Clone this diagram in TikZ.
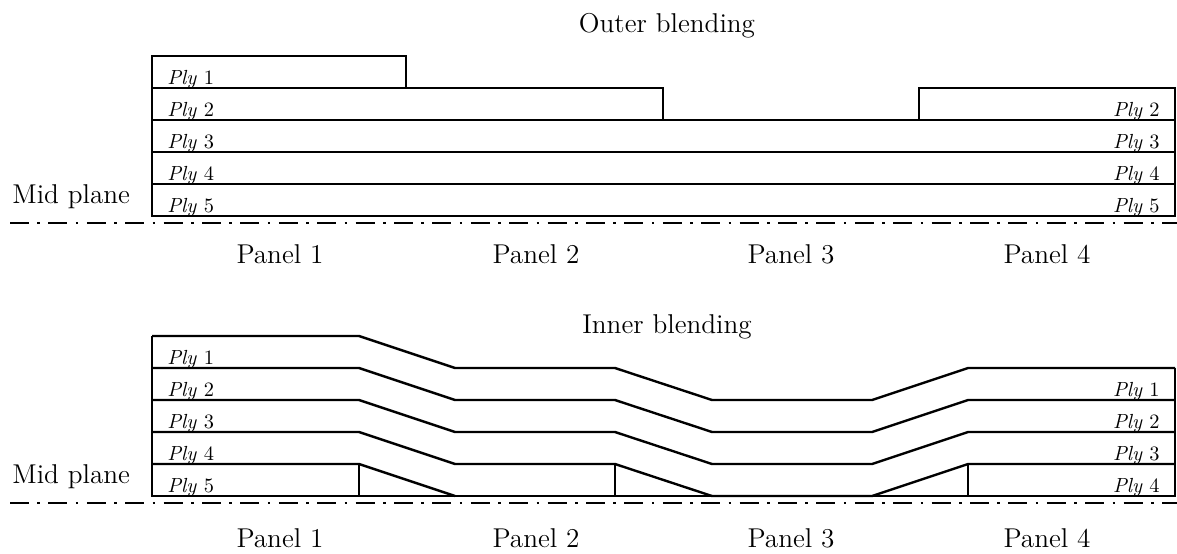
\documentclass[tikz,border=0pt]{standalone}
\usepackage{amsmath}
\usepackage{tikz}

\begin{document}
\begin{tikzpicture}[x=0.5pt,y=-0.5pt,
    plyline/.style={line width=1.2pt, line join=miter},
    midplane/.style={line width=1.2pt, dash pattern=on 9.5pt off 4.2pt on 1.3pt off 4.2pt},
    plytext/.style={font=\fontsize{10.2}{12}\selectfont, inner sep=0pt},
    bigtext/.style={font=\fontsize{13.6}{16}\selectfont, inner sep=0pt, anchor=base}]
    \useasboundingbox (0,0) rectangle (1177,553);

    % outer blending
    \node[bigtext] (outer) at (667,32) {Outer blending};
    \draw[plyline] (152,216) |- (406,56) |- (663,88) |- (919,120) |- (1175,88) -- (1175,216) -- cycle;
    \draw[plyline] (152,88) -- (406,88);
    \foreach \y in {120,152,184}
        \draw[plyline] (152,\y) -- (1175,\y);
    \foreach \i in {1,...,5}
        \node[plytext, anchor=base west] (lo-\i) at (167,{52+32*\i}) {\textit{Ply} \i};
    \foreach \i in {2,...,5}
        \node[plytext, anchor=base east] (ro-\i) at (1160,{52+32*\i}) {\textit{Ply} \i};
    \node[bigtext, anchor=base west] (mid-o) at (12,203) {Mid plane};
    \draw[midplane] (10,223) -- (1177,223);
    \foreach \x [count=\i] in {280,536,791,1047}
        \node[bigtext] (po-\i) at (\x,263) {Panel \i};

    % inner blending
    \node[bigtext] (inner) at (667,333) {Inner blending};
    \draw[plyline] (152,336) -- (152,496) -- (1175,496) -- (1175,368);
    \foreach \k in {0,...,3}
        \draw[plyline] (152,336+32*\k) -- (359,336+32*\k) -- (455,368+32*\k) -- (615,368+32*\k)
            -- (712,400+32*\k) -- (872,400+32*\k) -- (968,368+32*\k) -- (1175,368+32*\k);
    \draw[plyline] (152,464) -- (359,464) -- (455,496);
    \foreach \x in {359,615,968}
        \draw[plyline] (\x,464) -- (\x,496);
    \foreach \i in {1,...,5}
        \node[plytext, anchor=base west] (li-\i) at (167,{332+32*\i}) {\textit{Ply} \i};
    \foreach \i in {1,...,4}
        \node[plytext, anchor=base east] (ri-\i) at (1160,{364+32*\i}) {\textit{Ply} \i};
    \node[bigtext, anchor=base west] (mid-i) at (12,483) {Mid plane};
    \draw[midplane] (10,503) -- (1177,503);
    \foreach \x [count=\i] in {280,536,791,1047}
        \node[bigtext] (pi-\i) at (\x,547) {Panel \i};
\end{tikzpicture}
\end{document}
